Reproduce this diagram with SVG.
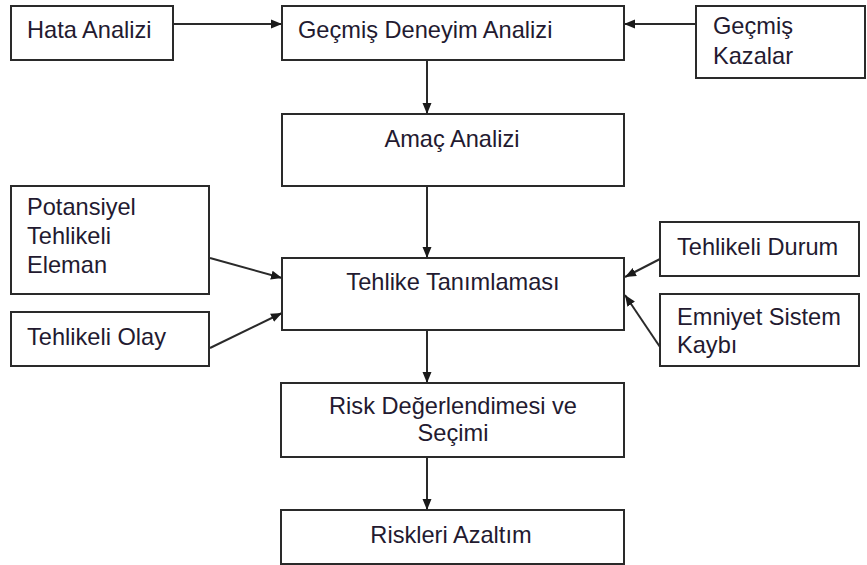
<svg xmlns="http://www.w3.org/2000/svg" width="867" height="565" viewBox="0 0 867 565">
<defs>
<style>
.box{fill:#fff;stroke:#2a2a2a;stroke-width:2}
.t{font-family:"Liberation Sans",Arial,sans-serif;font-size:23.6px;fill:#231a30}
.c{text-anchor:middle}
.con{stroke:#2a2a2a;stroke-width:2;fill:none;marker-end:url(#ah)}
</style>
<marker id="ah" markerUnits="userSpaceOnUse" markerWidth="12" markerHeight="10" refX="11" refY="5" orient="auto">
<path d="M0,0.5 L11,5 L0,9.5 z" fill="#1a1a1a"/>
</marker>
</defs>
<rect width="867" height="565" fill="#fff"/>
<g id="connectors">
<line class="con" x1="173" y1="24" x2="282" y2="24"/>
<line class="con" x1="696" y1="24" x2="624" y2="24"/>
<line class="con" x1="427" y1="60" x2="427" y2="114"/>
<line class="con" x1="427" y1="186" x2="427" y2="258"/>
<line class="con" x1="210" y1="258" x2="282" y2="278"/>
<line class="con" x1="210" y1="348" x2="282" y2="313"/>
<line class="con" x1="660" y1="259" x2="625" y2="277"/>
<line class="con" x1="660" y1="347" x2="625" y2="295"/>
<line class="con" x1="427" y1="330" x2="427" y2="383"/>
<line class="con" x1="427" y1="457" x2="427" y2="510"/>
</g>
<g id="hata-analizi"><rect class="box" x="11" y="6" width="162" height="54"/><text class="t" x="27" y="38">Hata Analizi</text></g>
<g id="gecmis-deneyim"><rect class="box" x="282" y="6" width="342" height="54"/><text class="t" x="298" y="38">Geçmiş Deneyim Analizi</text></g>
<g id="gecmis-kazalar"><rect class="box" x="696" y="6" width="169" height="72"/><text class="t" x="713" y="34">Geçmiş</text><text class="t" x="713" y="64">Kazalar</text></g>
<g id="amac-analizi"><rect class="box" x="282" y="114" width="342" height="72"/><text class="t c" x="452" y="147">Amaç Analizi</text></g>
<g id="potansiyel"><rect class="box" x="11" y="186" width="198" height="108"/><text class="t" x="27" y="215">Potansiyel</text><text class="t" x="27" y="244">Tehlikeli</text><text class="t" x="27" y="273">Eleman</text></g>
<g id="tehlike-tanimlamasi"><rect class="box" x="282" y="258" width="342" height="72"/><text class="t c" x="453" y="290">Tehlike Tanımlaması</text></g>
<g id="tehlikeli-olay"><rect class="box" x="11" y="312" width="198" height="54"/><text class="t" x="27" y="345">Tehlikeli Olay</text></g>
<g id="tehlikeli-durum"><rect class="box" x="660" y="222" width="199" height="54"/><text class="t" x="677" y="255">Tehlikeli Durum</text></g>
<g id="emniyet"><rect class="box" x="660" y="294" width="199" height="72"/><text class="t" x="677" y="325">Emniyet Sistem</text><text class="t" x="677" y="353">Kaybı</text></g>
<g id="risk-degerlendirme"><rect class="box" x="281" y="383" width="343" height="74"/><text class="t c" x="453" y="414">Risk Değerlendimesi ve</text><text class="t c" x="453" y="441">Seçimi</text></g>
<g id="riskleri-azaltim"><rect class="box" x="281" y="510" width="343" height="54"/><text class="t c" x="451" y="543">Riskleri Azaltım</text></g>
</svg>
